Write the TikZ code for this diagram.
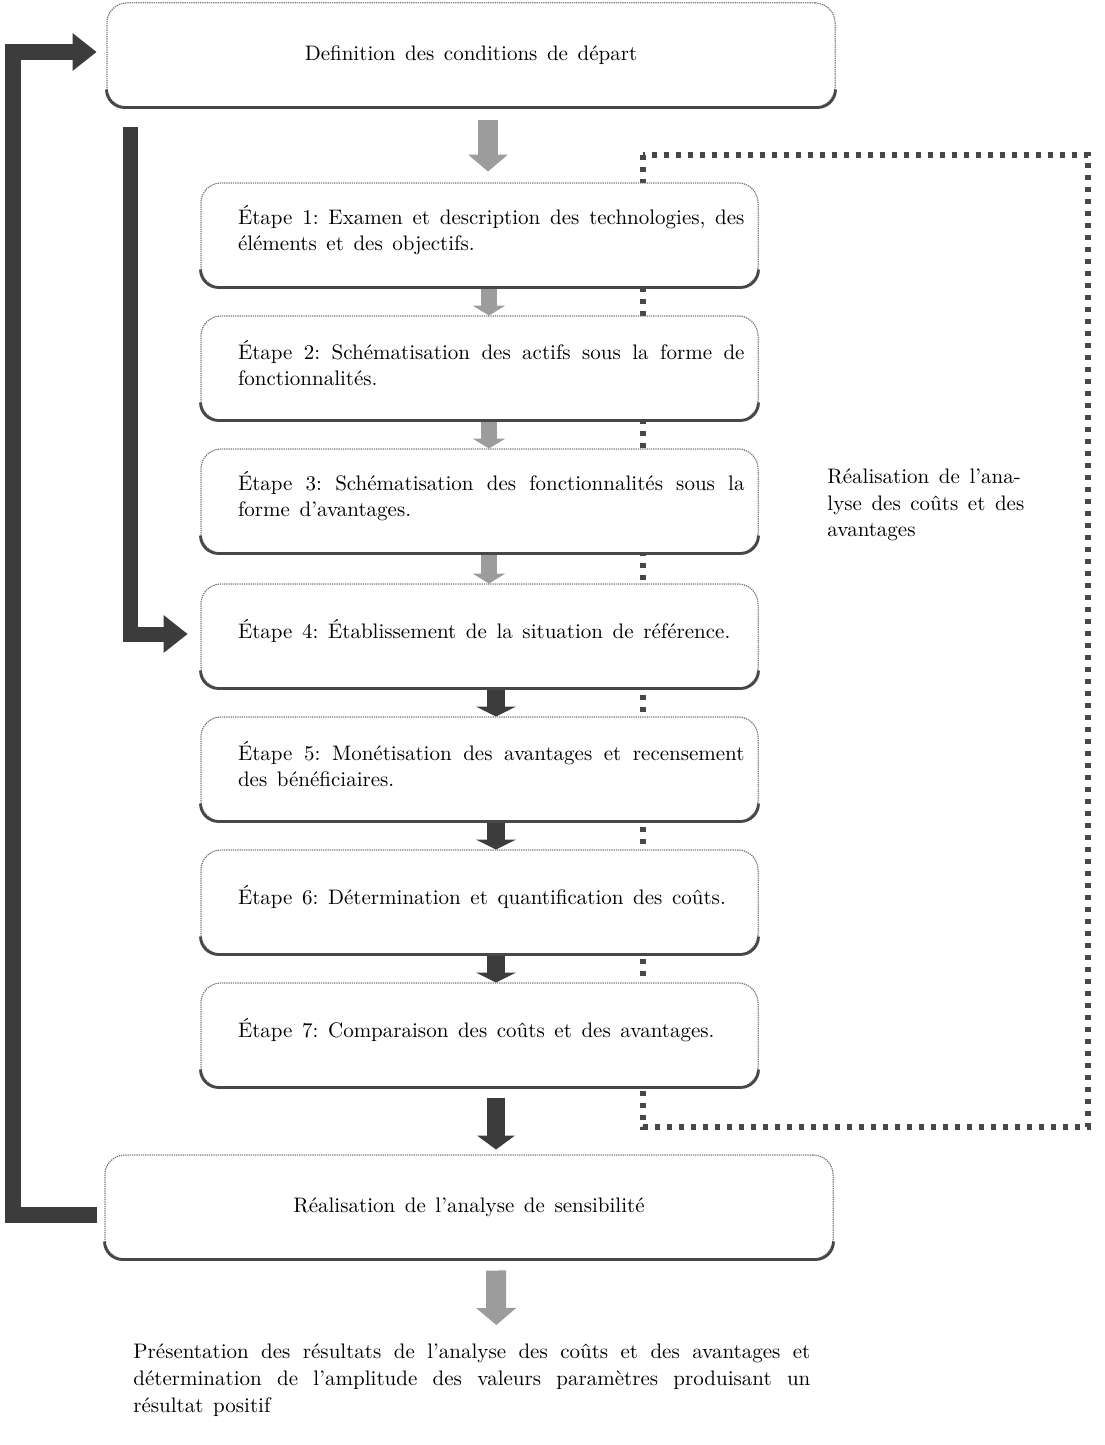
\documentclass[tikz,border=0pt]{standalone}
\usepackage{tikz}
\usetikzlibrary{arrows.meta, calc}

\definecolor{darkfill}{HTML}{3C3C3C}
\definecolor{lightfill}{HTML}{9C9C9C}
\definecolor{boxline}{HTML}{707070}
\definecolor{shadowcol}{HTML}{474747}

\tikzset{
  boxbase/.style={draw=boxline, line width=0.5pt, dash pattern=on 0.6pt off 0.5pt,
    fill=white, rounded corners=10pt, minimum height=52pt, inner ysep=0pt},
  stepbox/.style={boxbase, minimum width=278.5pt, text width=265pt, align=justify,
    execute at begin node={\leftskip=11.75pt\relax},
    execute at end node={\par\vspace*{5pt}}},
  widebox/.style={boxbase, minimum width=364pt},
  shadowline/.style={draw=shadowcol, line width=1.4pt, rounded corners=9pt},
  dotline/.style={draw=shadowcol, line width=2.6pt, dash pattern=on 2.6pt off 3.4pt},
  greystep/.style={lightfill, line width=8pt, -{Triangle[width=16.5pt,length=5pt,line width=0pt]}},
  greybig/.style={lightfill, line width=10pt, -{Triangle[width=20pt,length=8.5pt,line width=0pt]}},
  darkstep/.style={darkfill, line width=9pt, -{Triangle[width=20pt,length=5pt,line width=0pt]}},
  darkbig/.style={darkfill, line width=9pt, -{Triangle[width=19pt,length=7pt,line width=0pt]}},
  looparrow/.style={darkfill, line width=8pt, -{Triangle[width=19pt,length=12pt,line width=0pt]}},
}

\begin{document}
\frenchspacing
% wider word spaces, as in the original
{\fontsize{10.5}{13.2}\selectfont\global\fontdimen2\font=4.8pt}
\begin{tikzpicture}[x=0.5pt, y=-0.5pt, font=\fontsize{10.5}{13.2}\selectfont]
        \useasboundingbox (0,0) rectangle (1104,1445);

        % Cost-benefit bracket
        \draw[dotline] (643,155) rectangle (1088,1127);
        \node[anchor=west, align=left, inner sep=0pt] (cba) at (827,505)
          {Réalisation de l'ana-\\lyse des coûts et des\\avantages};

        \coordinate (loop) at (13,52);
        \coordinate (innertop) at (130,127);

        % Arrows first, boxes cover their ends
        \node[widebox] (top) at (471,55) {Definition des conditions de départ};
        \node[stepbox] (b1) at (479.5,235) {};
        \node[stepbox] (b2) at (479.5,368) {};
        \node[stepbox] (b3) at (479.5,501) {};
        \node[stepbox] (b4) at (479.5,636) {};
        \node[stepbox] (b5) at (479.5,769) {};
        \node[stepbox] (b6) at (479.5,902) {};
        \node[stepbox] (b7) at (479.5,1035) {};
        \node[widebox] (sens) at (469,1207) {};
        \node[text width=338.5pt, align=justify, inner sep=0pt, anchor=north west,
              font=\fontsize{10.5}{13.6}\selectfont] (res) at (133,1343)
          {Présentation des résultats de l'analyse des coûts et des avantages et\linebreak
           détermination de l'amplitude des valeurs paramètres produisant un\linebreak
           résultat positif};

        \draw[greybig, shorten <=6.5pt, shorten >=5.5pt] ([xshift=8.5pt]top.south) -- ([xshift=4.25pt]b1.north);
        \draw[greystep] ([xshift=4.75pt]b1.south) -- ([xshift=4.75pt]b2.north);
        \draw[greystep] ([xshift=4.75pt]b2.south) -- ([xshift=4.75pt]b3.north);
        \draw[greystep] ([xshift=4.75pt]b3.south) -- ([xshift=4.75pt]b4.north);
        \draw[darkstep] ([xshift=8.25pt]b4.south) -- ([xshift=8.25pt]b5.north);
        \draw[darkstep] ([xshift=8.25pt]b5.south) -- ([xshift=8.25pt]b6.north);
        \draw[darkstep] ([xshift=8.25pt]b6.south) -- ([xshift=8.25pt]b7.north);
        \draw[darkbig, shorten <=5pt, shorten >=2.5pt] ([xshift=8.25pt]b7.south) -- ([xshift=13.5pt]sens.north);
        \draw[greybig, shorten <=5.5pt, shorten >=9pt] ([xshift=13.5pt]sens.south) -- ([xshift=12.25pt]res.north);

        % Feedback loops
        \draw[looparrow, shorten >=5pt] ([xshift=-4pt,yshift=-4pt]sens.west) -| (loop) -- ([yshift=1.5pt]top.west);
        \draw[looparrow, line width=7.5pt, shorten >=6.5pt] (innertop) |- ([yshift=1pt]b4.west);

        % Boxes on top
        \node[widebox] at (top) {Definition des conditions de départ};
        \node[stepbox] at (b1) {Étape 1: Examen et description des technologies, des\linebreak éléments et des objectifs.};
        \node[stepbox] at (b2) {Étape 2: Schématisation des actifs sous la forme de\linebreak fonctionnalités.};
        \node[stepbox] at (b3) {Étape 3: Schématisation des fonctionnalités sous la\linebreak forme d'avantages.};
        \node[stepbox] at (b4) {Étape 4: Établissement de la situation de référence.};
        \node[stepbox] at (b5) {Étape 5: Monétisation des avantages et recensement\linebreak des bénéficiaires.};
        \node[stepbox] at (b6) {Étape 6: Détermination et quantification des coûts.};
        \node[stepbox] at (b7) {Étape 7: Comparaison des coûts et des avantages.};
        \node[widebox] at (sens) {Réalisation de l'analyse de sensibilité};

        \foreach \n in {top,b1,b2,b3,b4,b5,b6,b7,sens}
          \draw[shadowline] ([yshift=9pt]\n.south west) -- (\n.south west) -- (\n.south east) -- ([yshift=9pt]\n.south east);
\end{tikzpicture}
\end{document}
